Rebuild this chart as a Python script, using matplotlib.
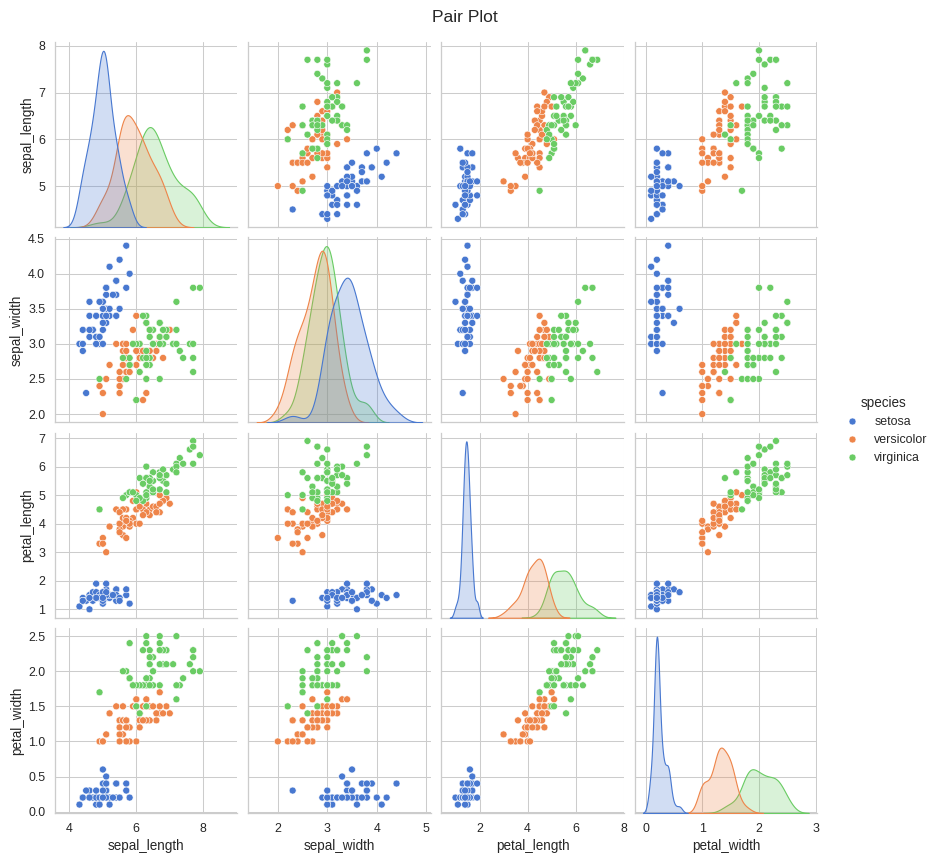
import matplotlib
matplotlib.use("Agg")
import matplotlib.pyplot as plt
import seaborn as sns
import pandas as pd

# ---- data (iris) ----
species_names = ["setosa", "versicolor", "virginica"]
species_counts = [50, 50, 50]

sepal_length = [
    5.1, 4.9, 4.7, 4.6, 5.0, 5.4, 4.6, 5.0, 4.4, 4.9, 5.4, 4.8, 4.8, 4.3, 5.8, 5.7, 5.4, 5.1, 5.7, 5.1,
    5.4, 5.1, 4.6, 5.1, 4.8, 5.0, 5.0, 5.2, 5.2, 4.7, 4.8, 5.4, 5.2, 5.5, 4.9, 5.0, 5.5, 4.9, 4.4, 5.1,
    5.0, 4.5, 4.4, 5.0, 5.1, 4.8, 5.1, 4.6, 5.3, 5.0,
    7.0, 6.4, 6.9, 5.5, 6.5, 5.7, 6.3, 4.9, 6.6, 5.2, 5.0, 5.9, 6.0, 6.1, 5.6, 6.7, 5.6, 5.8, 6.2, 5.6,
    5.9, 6.1, 6.3, 6.1, 6.4, 6.6, 6.8, 6.7, 6.0, 5.7, 5.5, 5.5, 5.8, 6.0, 5.4, 6.0, 6.7, 6.3, 5.6, 5.5,
    5.5, 6.1, 5.8, 5.0, 5.6, 5.7, 5.7, 6.2, 5.1, 5.7,
    6.3, 5.8, 7.1, 6.3, 6.5, 7.6, 4.9, 7.3, 6.7, 7.2, 6.5, 6.4, 6.8, 5.7, 5.8, 6.4, 6.5, 7.7, 7.7, 6.0,
    6.9, 5.6, 7.7, 6.3, 6.7, 7.2, 6.2, 6.1, 6.4, 7.2, 7.4, 7.9, 6.4, 6.3, 6.1, 7.7, 6.3, 6.4, 6.0, 6.9,
    6.7, 6.9, 5.8, 6.8, 6.7, 6.7, 6.3, 6.5, 6.2, 5.9,
]
sepal_width = [
    3.5, 3.0, 3.2, 3.1, 3.6, 3.9, 3.4, 3.4, 2.9, 3.1, 3.7, 3.4, 3.0, 3.0, 4.0, 4.4, 3.9, 3.5, 3.8, 3.8,
    3.4, 3.7, 3.6, 3.3, 3.4, 3.0, 3.4, 3.5, 3.4, 3.2, 3.1, 3.4, 4.1, 4.2, 3.1, 3.2, 3.5, 3.6, 3.0, 3.4,
    3.5, 2.3, 3.2, 3.5, 3.8, 3.0, 3.8, 3.2, 3.7, 3.3,
    3.2, 3.2, 3.1, 2.3, 2.8, 2.8, 3.3, 2.4, 2.9, 2.7, 2.0, 3.0, 2.2, 2.9, 2.9, 3.1, 3.0, 2.7, 2.2, 2.5,
    3.2, 2.8, 2.5, 2.8, 2.9, 3.0, 2.8, 3.0, 2.9, 2.6, 2.4, 2.4, 2.7, 2.7, 3.0, 3.4, 3.1, 2.3, 3.0, 2.5,
    2.6, 3.0, 2.6, 2.3, 2.7, 3.0, 2.9, 2.9, 2.5, 2.8,
    3.3, 2.7, 3.0, 2.9, 3.0, 3.0, 2.5, 2.9, 2.5, 3.6, 3.2, 2.7, 3.0, 2.5, 2.8, 3.2, 3.0, 3.8, 2.6, 2.2,
    3.2, 2.8, 2.8, 2.7, 3.3, 3.2, 2.8, 3.0, 2.8, 3.0, 2.8, 3.8, 2.8, 2.8, 2.6, 3.0, 3.4, 3.1, 3.0, 3.1,
    3.1, 3.1, 2.7, 3.2, 3.3, 3.0, 2.5, 3.0, 3.4, 3.0,
]
petal_length = [
    1.4, 1.4, 1.3, 1.5, 1.4, 1.7, 1.4, 1.5, 1.4, 1.5, 1.5, 1.6, 1.4, 1.1, 1.2, 1.5, 1.3, 1.4, 1.7, 1.5,
    1.7, 1.5, 1.0, 1.7, 1.9, 1.6, 1.6, 1.5, 1.4, 1.6, 1.6, 1.5, 1.5, 1.4, 1.5, 1.2, 1.3, 1.4, 1.3, 1.5,
    1.3, 1.3, 1.3, 1.6, 1.9, 1.4, 1.6, 1.4, 1.5, 1.4,
    4.7, 4.5, 4.9, 4.0, 4.6, 4.5, 4.7, 3.3, 4.6, 3.9, 3.5, 4.2, 4.0, 4.7, 3.6, 4.4, 4.5, 4.1, 4.5, 3.9,
    4.8, 4.0, 4.9, 4.7, 4.3, 4.4, 4.8, 5.0, 4.5, 3.5, 3.8, 3.7, 3.9, 5.1, 4.5, 4.5, 4.7, 4.4, 4.1, 4.0,
    4.4, 4.6, 4.0, 3.3, 4.2, 4.2, 4.2, 4.3, 3.0, 4.1,
    6.0, 5.1, 5.9, 5.6, 5.8, 6.6, 4.5, 6.3, 5.8, 6.1, 5.1, 5.3, 5.5, 5.0, 5.1, 5.3, 5.5, 6.7, 6.9, 5.0,
    5.7, 4.9, 6.7, 4.9, 5.7, 6.0, 4.8, 4.9, 5.6, 5.8, 6.1, 6.4, 5.6, 5.1, 5.6, 6.1, 5.6, 5.5, 4.8, 5.4,
    5.6, 5.1, 5.1, 5.9, 5.7, 5.2, 5.0, 5.2, 5.4, 5.1,
]
petal_width = [
    0.2, 0.2, 0.2, 0.2, 0.2, 0.4, 0.3, 0.2, 0.2, 0.1, 0.2, 0.2, 0.1, 0.1, 0.2, 0.4, 0.4, 0.3, 0.3, 0.3,
    0.2, 0.4, 0.2, 0.5, 0.2, 0.2, 0.4, 0.2, 0.2, 0.2, 0.2, 0.4, 0.1, 0.2, 0.2, 0.2, 0.2, 0.1, 0.2, 0.2,
    0.3, 0.3, 0.2, 0.6, 0.4, 0.3, 0.2, 0.2, 0.2, 0.2,
    1.4, 1.5, 1.5, 1.3, 1.5, 1.3, 1.6, 1.0, 1.3, 1.4, 1.0, 1.5, 1.0, 1.4, 1.3, 1.4, 1.5, 1.0, 1.5, 1.1,
    1.8, 1.3, 1.5, 1.2, 1.3, 1.4, 1.4, 1.7, 1.5, 1.0, 1.1, 1.0, 1.2, 1.6, 1.5, 1.6, 1.5, 1.3, 1.3, 1.3,
    1.2, 1.4, 1.2, 1.0, 1.3, 1.2, 1.3, 1.3, 1.1, 1.3,
    2.5, 1.9, 2.1, 1.8, 2.2, 2.1, 1.7, 1.8, 1.8, 2.5, 2.0, 1.9, 2.1, 2.0, 2.4, 2.3, 1.8, 2.2, 2.3, 1.5,
    2.3, 2.0, 2.0, 1.8, 2.1, 1.8, 1.8, 1.8, 2.1, 1.6, 1.9, 2.0, 2.2, 1.5, 1.4, 2.3, 2.4, 1.8, 1.8, 2.1,
    2.4, 2.3, 1.9, 2.3, 2.5, 2.3, 1.9, 2.0, 2.3, 1.8,
]

species = []
for name, n in zip(species_names, species_counts):
    species += [name] * n

df = pd.DataFrame({
    "sepal_length": sepal_length,
    "sepal_width": sepal_width,
    "petal_length": petal_length,
    "petal_width": petal_width,
    "species": species,
})

# ---- style ----
sns.set_theme(style="whitegrid", font_scale=1.1)
plt.rcParams["font.family"] = ["Liberation Sans", "DejaVu Sans"]

DPI = 74
W, H = 938, 862

g = sns.pairplot(df, hue="species", palette="muted",
                 plot_kws={"s": 46}, diag_kws={"linewidth": 1.1})
fig = g.figure
fig.set_size_inches(W / DPI, H / DPI)
fig.subplots_adjust(left=55 / W, right=817 / W, top=1 - 42 / H, bottom=1 - 813 / H,
                    wspace=0.06, hspace=0.054)
fig.suptitle("Pair Plot", fontsize=17, x=465 / W, y=1 - 17 / H, va="center")
sns.move_legend(g, "center left", bbox_to_anchor=(0.883, 0.501), frameon=False)

fig.savefig("out.png", dpi=DPI)
